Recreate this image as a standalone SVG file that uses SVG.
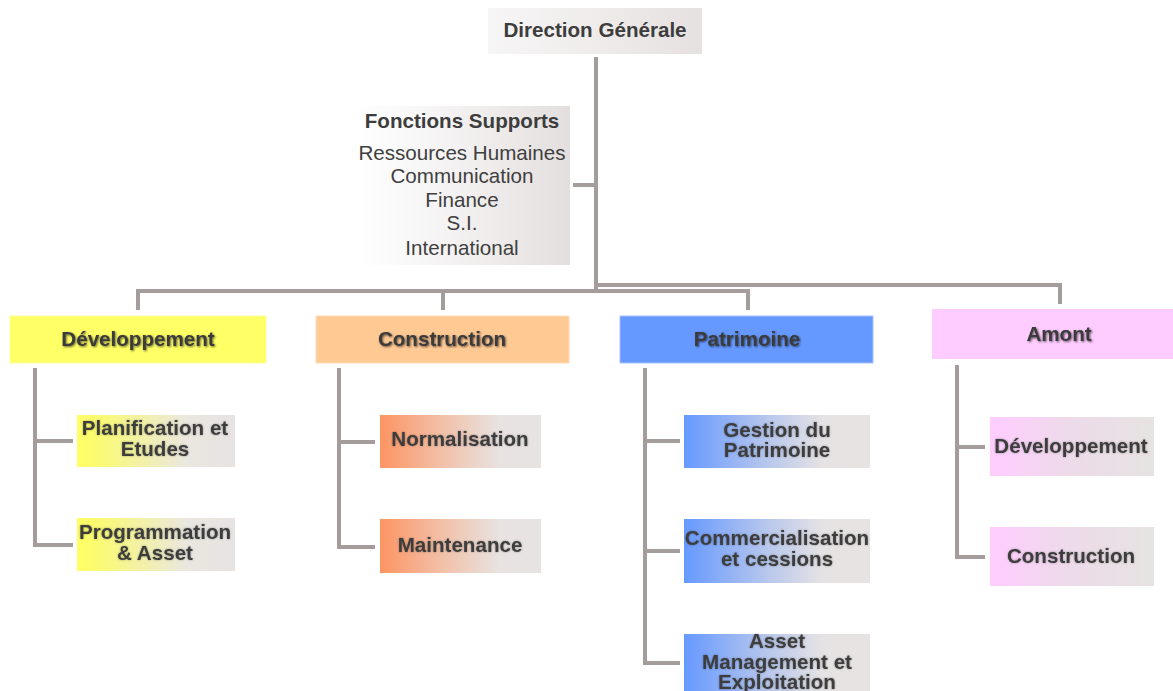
<svg xmlns="http://www.w3.org/2000/svg" width="1173" height="691" viewBox="0 0 1173 691">
  <defs>
    <linearGradient id="gGray" x1="0" y1="0" x2="1" y2="0">
      <stop offset="0" stop-color="#f7f6f6"/>
      <stop offset="1" stop-color="#e6e1e0"/>
    </linearGradient>
    <linearGradient id="gSupport" x1="0" y1="0" x2="1" y2="0">
      <stop offset="0" stop-color="#ffffff"/>
      <stop offset="0.3" stop-color="#f8f7f7"/>
      <stop offset="1" stop-color="#e4dfde"/>
    </linearGradient>
    <linearGradient id="gYellow" x1="0" y1="0" x2="1" y2="0">
      <stop offset="0" stop-color="#ffff66"/>
      <stop offset="0.12" stop-color="#fbfb70"/>
      <stop offset="0.7" stop-color="#eae7e0"/>
      <stop offset="1" stop-color="#e7e3e2"/>
    </linearGradient>
    <linearGradient id="gOrange" x1="0" y1="0" x2="1" y2="0">
      <stop offset="0" stop-color="#fd9463"/>
      <stop offset="0.4" stop-color="#f1c2ab"/>
      <stop offset="0.75" stop-color="#e8e3e2"/>
      <stop offset="1" stop-color="#e7e3e2"/>
    </linearGradient>
    <linearGradient id="gBlue" x1="0" y1="0" x2="1" y2="0">
      <stop offset="0" stop-color="#6699ff"/>
      <stop offset="0.45" stop-color="#b8c7ec"/>
      <stop offset="0.75" stop-color="#e6e3e4"/>
      <stop offset="1" stop-color="#e7e3e2"/>
    </linearGradient>
    <linearGradient id="gPink" x1="0" y1="0" x2="1" y2="0">
      <stop offset="0" stop-color="#ffccff"/>
      <stop offset="0.5" stop-color="#eddbe9"/>
      <stop offset="1" stop-color="#e7e3e2"/>
    </linearGradient>
    <filter id="shadow" x="-10%" y="-30%" width="120%" height="160%">
      <feGaussianBlur in="SourceAlpha" stdDeviation="1.3" result="b"/>
      <feOffset in="b" dx="0.5" dy="0.5" result="o"/>
      <feComponentTransfer in="o" result="s">
        <feFuncA type="linear" slope="0.6"/>
      </feComponentTransfer>
      <feMerge>
        <feMergeNode in="s"/>
        <feMergeNode in="SourceGraphic"/>
      </feMerge>
    </filter>
    <filter id="softShadow" x="-10%" y="-30%" width="120%" height="160%">
      <feGaussianBlur in="SourceAlpha" stdDeviation="1" result="b"/>
      <feComponentTransfer in="b" result="s">
        <feFuncA type="linear" slope="0.35"/>
      </feComponentTransfer>
      <feMerge>
        <feMergeNode in="s"/>
        <feMergeNode in="SourceGraphic"/>
      </feMerge>
    </filter>
  </defs>
  <style>
    text { font-family: "Liberation Sans", Arial, sans-serif; font-size: 20.6px; fill: #3d3d3d; text-anchor: middle; }
    .b { font-weight: bold; }
    .lvl2 { font-weight: bold; fill: #3a3a3a; filter: url(#shadow); }
    .lvl3 { font-weight: bold; fill: #3d3d3d; filter: url(#softShadow); }
    .reg { font-weight: normal; fill: #404040; }
    .link { fill: none; stroke: #a59d9c; stroke-width: 4; stroke-linejoin: miter; stroke-linecap: butt; }
  </style>

  <rect width="1173" height="691" fill="#ffffff"/>

  <!-- connectors -->
  <g id="connectors">
    <path class="link" d="M596 57 V291"/>
    <path class="link" d="M573 185 H596"/>
    <path class="link" d="M138 310 V291 H748 V310"/>
    <path class="link" d="M443 291 V310"/>
    <path class="link" d="M596 285 H1060 V304"/>
    <!-- Développement branch -->
    <path class="link" d="M35 368 V545 H73"/>
    <path class="link" d="M35 441 H73"/>
    <!-- Construction branch -->
    <path class="link" d="M339 368 V547 H375"/>
    <path class="link" d="M339 442 H375"/>
    <!-- Patrimoine branch -->
    <path class="link" d="M645 368 V663 H680"/>
    <path class="link" d="M645 441 H680"/>
    <path class="link" d="M645 551 H680"/>
    <!-- Amont branch -->
    <path class="link" d="M957 365 V557 H985"/>
    <path class="link" d="M957 447 H985"/>
  </g>

  <g id="direction-generale">
    <rect x="488" y="8" width="214" height="46" fill="url(#gGray)"/>
    <text class="b" x="595" y="37">Direction Générale</text>
  </g>

  <g id="fonctions-supports">
    <rect x="355" y="106" width="215" height="159" fill="url(#gSupport)"/>
    <text class="b" x="462" y="128">Fonctions Supports</text>
    <text class="reg" x="462" y="160">Ressources Humaines</text>
    <text class="reg" x="462" y="183">Communication</text>
    <text class="reg" x="462" y="207">Finance</text>
    <text class="reg" x="462" y="230">S.I.</text>
    <text class="reg" x="462" y="255">International</text>
  </g>

  <g id="developpement">
    <rect x="10" y="316" width="256" height="47" fill="#ffff66" stroke="#fdfd9a" stroke-width="1"/>
    <text class="lvl2" x="138" y="346">Développement</text>
  </g>
  <g id="construction">
    <rect x="316" y="316" width="253" height="47" fill="#ffc994" stroke="#ffdcbb" stroke-width="1"/>
    <text class="lvl2" x="442" y="346">Construction</text>
  </g>
  <g id="patrimoine">
    <rect x="620" y="316" width="253" height="47" fill="#6699ff" stroke="#a7c0ff" stroke-width="1"/>
    <text class="lvl2" x="747" y="346">Patrimoine</text>
  </g>
  <g id="amont">
    <rect x="932" y="309" width="241" height="50" fill="#ffccff"/>
    <text class="lvl2" x="1059" y="341">Amont</text>
  </g>

  <g id="planification-etudes">
    <rect x="77" y="415" width="158" height="52" fill="url(#gYellow)"/>
    <text class="lvl3" x="155" y="435">Planification et</text>
    <text class="lvl3" x="155" y="456">Etudes</text>
  </g>
  <g id="programmation-asset">
    <rect x="77" y="518" width="158" height="53" fill="url(#gYellow)"/>
    <text class="lvl3" x="155" y="539">Programmation</text>
    <text class="lvl3" x="155" y="560">&amp; Asset</text>
  </g>

  <g id="normalisation">
    <rect x="380" y="415" width="161" height="53" fill="url(#gOrange)"/>
    <text class="lvl3" x="460" y="446">Normalisation</text>
  </g>
  <g id="maintenance">
    <rect x="380" y="519" width="161" height="54" fill="url(#gOrange)"/>
    <text class="lvl3" x="460" y="552">Maintenance</text>
  </g>

  <g id="gestion-patrimoine">
    <rect x="684" y="415" width="186" height="53" fill="url(#gBlue)"/>
    <text class="lvl3" x="777" y="437">Gestion du</text>
    <text class="lvl3" x="777" y="457">Patrimoine</text>
  </g>
  <g id="commercialisation-cessions">
    <rect x="684" y="519" width="186" height="64" fill="url(#gBlue)"/>
    <text class="lvl3" x="777" y="545">Commercialisation</text>
    <text class="lvl3" x="777" y="566">et cessions</text>
  </g>
  <g id="asset-management">
    <rect x="684" y="634" width="186" height="60" fill="url(#gBlue)"/>
    <text class="lvl3" x="777" y="648">Asset</text>
    <text class="lvl3" x="777" y="669">Management et</text>
    <text class="lvl3" x="777" y="689">Exploitation</text>
  </g>

  <g id="amont-developpement">
    <rect x="990" y="417" width="164" height="59" fill="url(#gPink)"/>
    <text class="lvl3" x="1071" y="453">Développement</text>
  </g>
  <g id="amont-construction">
    <rect x="990" y="527" width="164" height="59" fill="url(#gPink)"/>
    <text class="lvl3" x="1071" y="563">Construction</text>
  </g>
</svg>
